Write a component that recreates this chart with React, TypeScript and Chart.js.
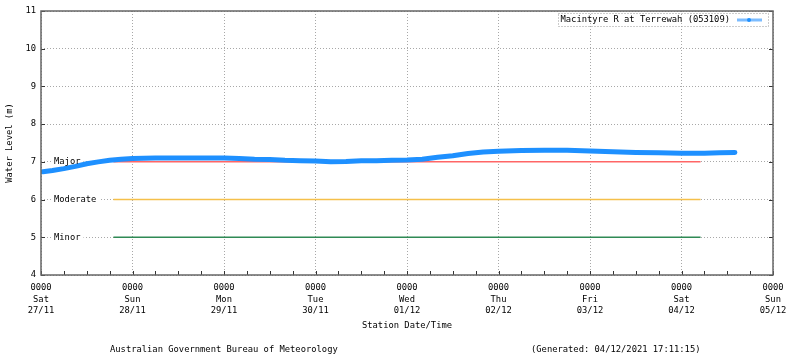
import React, { useEffect, useRef } from 'react';
import { Chart, registerables } from 'chart.js';

Chart.register(...registerables);

// ---- data (hours since Sat 27/11 00:00) ----
const hours = [0.5, 3, 6, 9, 12, 15, 18, 21, 24, 30, 36, 42, 48, 52, 56, 60, 64, 68, 72, 76, 80, 84, 88, 92, 96, 100, 104, 108, 112, 116, 120, 126, 132, 138, 144, 150, 156, 162, 168, 174, 178, 182];
const levels = [6.74, 6.77, 6.82, 6.88, 6.95, 7.0, 7.04, 7.07, 7.09, 7.1, 7.1, 7.1, 7.1, 7.09, 7.07, 7.06, 7.04, 7.03, 7.02, 7.0, 7.01, 7.03, 7.03, 7.04, 7.05, 7.07, 7.12, 7.16, 7.22, 7.26, 7.28, 7.3, 7.31, 7.31, 7.29, 7.27, 7.25, 7.24, 7.23, 7.23, 7.24, 7.25];

const dayLabels = ['Sat', 'Sun', 'Mon', 'Tue', 'Wed', 'Thu', 'Fri', 'Sat', 'Sun'];
const dateLabels = ['27/11', '28/11', '29/11', '30/11', '01/12', '02/12', '03/12', '04/12', '05/12'];
const timeLabel = '0000';

const thresholdNames = ['Major', 'Moderate', 'Minor'];
const thresholdValues = [7, 6, 5];
const thresholdColors = ['#ff6666', '#f5c04a', '#2f8a55'];
const thresholdRange = [19, 173];

const seriesName = 'Macintyre R at Terrewah (053109)';
const yTitle = 'Water Level (m)';
const xTitle = 'Station Date/Time';
const footerLeft = 'Australian Government Bureau of Meteorology';
const footerRight = '(Generated: 04/12/2021 17:11:15)';

const FONT = '"DejaVu Sans Mono", "Liberation Mono", monospace';
const FS = 8.8;
const GRID = '#a8a8a8';
const FRAME = '#666666';
const BLUE = '#1e90ff';

const decor = {
  id: 'decor',
  beforeDatasetsDraw(chart: any) {
    const { ctx, chartArea, scales } = chart;
    const y = scales.y;
    ctx.save();
    ctx.font = `${FS}px ${FONT}`;
    thresholdNames.forEach((name, i) => {
      const py = y.getPixelForValue(thresholdValues[i]);
      const w = ctx.measureText(name).width;
      ctx.fillStyle = '#ffffff';
      ctx.fillRect(chartArea.left + 11, py - 5, w + 5, 10);
    });
    ctx.restore();
  },
  afterDatasetsDraw(chart: any) {
    const { ctx, chartArea, scales } = chart;
    const y = scales.y;
    ctx.save();
    ctx.font = `${FS}px ${FONT}`;
    ctx.fillStyle = '#000';
    ctx.textBaseline = 'middle';
    ctx.textAlign = 'left';
    thresholdNames.forEach((name, i) => {
      const py = y.getPixelForValue(thresholdValues[i]);
      ctx.fillText(name, chartArea.left + 13, py);
    });
    ctx.restore();
  },
  afterDraw(chart: any) {
    const { ctx, chartArea, scales } = chart;
    const { left, right, top, bottom } = chartArea;
    const x = scales.x;
    const y = scales.y;
    ctx.save();
    // inward ticks
    ctx.strokeStyle = '#333';
    ctx.lineWidth = 1;
    ctx.beginPath();
    y.ticks.forEach((t: any) => {
      const py = Math.round(y.getPixelForValue(t.value)) + 0.5;
      ctx.moveTo(left, py); ctx.lineTo(left + 4, py);
      ctx.moveTo(right, py); ctx.lineTo(right - 4, py);
    });
    x.ticks.forEach((t: any) => {
      const px = Math.round(x.getPixelForValue(t.value)) + 0.5;
      ctx.moveTo(px, bottom); ctx.lineTo(px, bottom - 4);
    });
    ctx.stroke();
    // frame
    ctx.strokeStyle = FRAME;
    ctx.lineWidth = 1.5;
    ctx.strokeRect(left, top, right - left, bottom - top);

    // legend
    ctx.font = `${FS}px ${FONT}`;
    ctx.fillStyle = '#000';
    ctx.textBaseline = 'middle';
    ctx.textAlign = 'right';
    const ly = top + 9;
    ctx.fillText(seriesName, right - 43, ly);
    const tw = ctx.measureText(seriesName).width;
    ctx.setLineDash([1, 2]);
    ctx.strokeStyle = '#999';
    ctx.lineWidth = 1;
    ctx.strokeRect(Math.round(right - 43 - tw - 3) + 0.5, top + 2.5, Math.round(tw + 3 + 38), 13);
    ctx.setLineDash([]);
    ctx.strokeStyle = '#7cbcff';
    ctx.lineWidth = 3;
    ctx.beginPath();
    ctx.moveTo(right - 36, ly);
    ctx.lineTo(right - 11, ly);
    ctx.stroke();
    ctx.fillStyle = BLUE;
    ctx.beginPath();
    ctx.arc(right - 24, ly, 2, 0, Math.PI * 2);
    ctx.fill();

    // footer
    ctx.fillStyle = '#000';
    ctx.textAlign = 'left';
    ctx.fillText(footerLeft, 110, 350);
    ctx.fillText(footerRight, 531, 350);
    ctx.restore();
  },
};

export default function App() {
  const ref = useRef<HTMLCanvasElement>(null);

  useEffect(() => {
    if (!ref.current) return;
    const series = hours.map((h, i) => ({ x: h, y: levels[i] }));
    const thresholdSets = thresholdNames.map((name, i) => ({
      label: name,
      data: [
        { x: thresholdRange[0], y: thresholdValues[i] },
        { x: thresholdRange[1], y: thresholdValues[i] },
      ],
      borderColor: thresholdColors[i],
      borderWidth: 1.5,
      pointRadius: 0,
      tension: 0,
    }));
    const chart = new Chart(ref.current, {
      type: 'line',
      data: {
        datasets: [
          {
            label: seriesName,
            data: series,
            borderColor: BLUE,
            backgroundColor: BLUE,
            borderWidth: 5,
            borderCapStyle: 'round',
            borderJoinStyle: 'round',
            pointRadius: 0,
            tension: 0,
          },
          ...thresholdSets,
        ],
      },
      options: {
        animation: false,
        responsive: false,
        devicePixelRatio: 1,
        layout: { padding: { top: 11, right: 27, left: 0, bottom: 0 } },
        plugins: {
          legend: { display: false },
          tooltip: { enabled: false },
        },
        scales: {
          x: {
            type: 'linear',
            min: 0,
            max: 192,
            afterFit: (s: any) => { s.height = 83; },
            ticks: {
              stepSize: 6,
              autoSkip: false,
              maxRotation: 0,
              padding: 7,
              color: '#000',
              font: { family: FONT, size: FS, lineHeight: '11.5px' },
              callback: (v: any) => {
                const n = Number(v);
                if (n % 24 !== 0) return '';
                const i = n / 24;
                return [timeLabel, dayLabels[i], dateLabels[i]];
              },
            },
            grid: {
              drawTicks: false,
              color: (c: any) => (c.tick && c.tick.value % 24 === 0 ? GRID : 'rgba(0,0,0,0)'),
              lineWidth: 1,
            },
            border: { display: false, dash: [1, 2] },
            title: {
              display: true,
              text: xTitle,
              color: '#000',
              font: { family: FONT, size: FS },
              padding: { top: 0, bottom: 26.6 },
            },
          },
          y: {
            type: 'linear',
            min: 4,
            max: 11,
            afterFit: (s: any) => { s.width = 41; },
            ticks: {
              stepSize: 1,
              padding: 5,
              color: '#000',
              font: { family: FONT, size: FS },
            },
            grid: { drawTicks: false, color: GRID, lineWidth: 1 },
            border: { display: false, dash: [1, 2] },
            title: {
              display: true,
              text: yTitle,
              color: '#000',
              font: { family: FONT, size: FS },
              padding: { top: 4.9, bottom: 0 },
            },
          },
        },
      },
      plugins: [decor],
    } as any);
    return () => chart.destroy();
  }, []);

  return (
    <div style={{ position: 'absolute', left: 0, top: 0, width: 800, height: 358, background: '#fff' }}>
      <canvas ref={ref} width={800} height={358} style={{ display: 'block' }} />
    </div>
  );
}
